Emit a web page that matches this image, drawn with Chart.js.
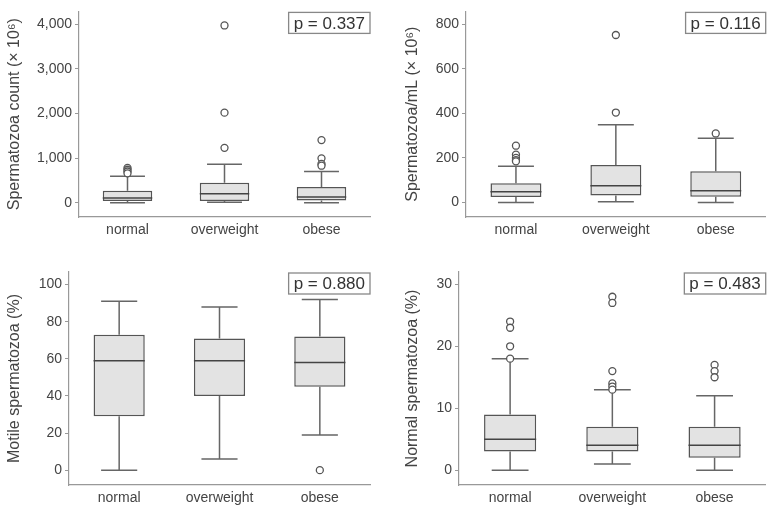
<!DOCTYPE html>
<html>
<head>
<meta charset="utf-8">
<script src="https://cdn.jsdelivr.net/npm/chart.js@4.4.1/dist/chart.umd.min.js"></script>
<style>
  body { margin: 0; background: #fff; }
  #wrap { position: relative; width: 771px; height: 507px; }
  .panel { position: absolute; }
</style>
</head>
<body>
<div id="wrap">
  <div class="panel" style="left:0;top:0;width:385px;height:250px"><canvas id="countChart"></canvas></div>
  <div class="panel" style="left:390px;top:0;width:381px;height:250px"><canvas id="concChart"></canvas></div>
  <div class="panel" style="left:0;top:250px;width:385px;height:257px"><canvas id="motileChart"></canvas></div>
  <div class="panel" style="left:390px;top:250px;width:381px;height:257px"><canvas id="normalChart"></canvas></div>
</div>
<script>
// 分组
const groups = ['normal', 'overweight', 'obese'];

// 精子总数 (x10^6)
const countMin = [0, 10, 0];
const countQ1 = [36, 36, 50];
const countMedian = [108, 202, 130];
const countQ3 = [267, 447, 353];
const countMax = [591, 865, 700];
const countOutliers = [[780, 740, 700, 660], [3975, 2020, 1230], [1405, 995, 870, 830]];
const countTicks = [0, 1000, 2000, 3000, 4000];

// 精子浓度 (x10^6/mL)
const concMin = [0, 3, 0];
const concQ1 = [25, 32, 26];
const concMedian = [48, 75, 53];
const concQ3 = [86, 169, 140];
const concMax = [163, 349, 288];
const concOutliers = [[255, 215, 200, 190, 185], [752, 404], [310]];
const concTicks = [0, 200, 400, 600, 800];

// 活动精子 (%)
const motileMin = [0, 6, 19];
const motileQ1 = [29, 40, 45];
const motileMedian = [59, 59, 58];
const motileQ3 = [73, 71, 72];
const motileMax = [91, 88, 92];
const motileOutliers = [[], [], [0]];
const motileTicks = [0, 20, 40, 60, 80, 100];

// 正常形态精子 (%)
const normMin = [0, 1, 0];
const normQ1 = [3, 3, 2];
const normMedian = [5, 4, 4];
const normQ3 = [9, 7, 7];
const normMax = [18, 13, 12];
const normOutliers = [[24, 23, 20, 18], [28, 27, 16, 14, 13.5, 13], [17, 16, 15]];
const normTicks = [0, 10, 20, 30];

const pValues = ['0.337', '0.116', '0.880', '0.483'];

const FONT = "'Liberation Sans', Arial, Helvetica, sans-serif";

// 画须线、中位数和 p 值框
function boxPlugin(stats, pText) {
    return {
        id: 'boxExtras',
        beforeDatasetsDraw(chart) {
            const ctx = chart.ctx;
            const xs = chart.scales.x, ys = chart.scales.y;
            const catW = xs.getPixelForValue(1) - xs.getPixelForValue(0);
            const capHalf = catW * 0.18;
            ctx.save();
            ctx.strokeStyle = '#666';
            ctx.lineWidth = 1.5;
            groups.forEach((g, i) => {
                const x = xs.getPixelForValue(i);
                const yMin = ys.getPixelForValue(stats.min[i]);
                const yMax = ys.getPixelForValue(stats.max[i]);
                const yQ1 = ys.getPixelForValue(stats.q1[i]);
                const yQ3 = ys.getPixelForValue(stats.q3[i]);
                ctx.beginPath();
                ctx.moveTo(x, yQ3); ctx.lineTo(x, yMax);
                ctx.moveTo(x, yQ1); ctx.lineTo(x, yMin);
                ctx.moveTo(x - capHalf, yMax); ctx.lineTo(x + capHalf, yMax);
                ctx.moveTo(x - capHalf, yMin); ctx.lineTo(x + capHalf, yMin);
                ctx.stroke();
            });
            ctx.restore();
        },
        afterDatasetsDraw(chart) {
            const ctx = chart.ctx;
            const xs = chart.scales.x, ys = chart.scales.y;
            const meta = chart.getDatasetMeta(0);
            ctx.save();
            ctx.strokeStyle = '#444';
            ctx.lineWidth = 1.5;
            groups.forEach((g, i) => {
                const bar = meta.data[i];
                const half = bar.width / 2;
                const x = xs.getPixelForValue(i);
                const y = ys.getPixelForValue(stats.median[i]);
                ctx.beginPath();
                ctx.moveTo(x - half, y); ctx.lineTo(x + half, y);
                ctx.stroke();
            });
            // p 值框
            const area = chart.chartArea;
            ctx.font = '17px ' + FONT;
            const label = 'p = ' + pText;
            const w = ctx.measureText(label).width + 10;
            const h = 21;
            const left = area.right - w, top = area.top + 1;
            ctx.fillStyle = '#fff';
            ctx.fillRect(left, top, w, h);
            ctx.strokeStyle = '#888';
            ctx.lineWidth = 1.3;
            ctx.strokeRect(left, top, w, h);
            ctx.fillStyle = '#333';
            ctx.textBaseline = 'middle';
            ctx.textAlign = 'center';
            ctx.fillText(label, left + w / 2, top + h / 2 + 1);
            ctx.restore();
        }
    };
}

function makeBoxChart(id, opts) {
    const stats = opts.stats;
    const outlierPoints = [];
    opts.outliers.forEach((arr, i) => {
        arr.forEach(v => outlierPoints.push({ x: groups[i], y: v }));
    });
    new Chart(document.getElementById(id), {
        type: 'bar',
        data: {
            labels: groups,
            datasets: [
                {
                    type: 'bar',
                    data: groups.map((g, i) => [stats.q1[i], stats.q3[i]]),
                    backgroundColor: '#e3e3e3',
                    borderColor: '#555',
                    borderWidth: 1.5,
                    borderSkipped: false,
                    barPercentage: 0.51,
                    categoryPercentage: 1,
                    order: 1
                },
                {
                    type: 'scatter',
                    data: outlierPoints,
                    pointRadius: 3.5,
                    pointBackgroundColor: '#fff',
                    pointBorderColor: '#555',
                    pointBorderWidth: 1.3,
                    order: 0
                }
            ]
        },
        options: {
            responsive: true,
            maintainAspectRatio: false,
            animation: false,
            layout: { padding: opts.padding },
            plugins: { legend: { display: false }, tooltip: { enabled: false } },
            scales: {
                x: {
                    type: 'category',
                    offset: true,
                    grid: { display: false, drawTicks: false },
                    border: { display: true, color: '#999', width: 1.2 },
                    ticks: { color: '#444', padding: 5, font: { family: FONT, size: 14 } },
                    afterFit: s => { s.height = opts.xHeight; }
                },
                y: {
                    type: 'linear',
                    min: opts.yMin,
                    max: opts.yMax,
                    afterBuildTicks: s => { s.ticks = opts.ticks.map(v => ({ value: v })); },
                    grid: { display: true, drawOnChartArea: false, drawTicks: true, tickLength: 4, color: '#999' },
                    border: { display: true, color: '#999', width: 1.2 },
                    ticks: {
                        color: '#444',
                        padding: 3,
                        font: { family: FONT, size: 14 },
                        callback: v => v.toLocaleString('en-US')
                    },
                    title: {
                        display: true,
                        text: opts.title,
                        color: '#444',
                        font: { family: FONT, size: 16 },
                        padding: { top: opts.titlePad, bottom: 0 }
                    },
                    afterFit: s => { s.width = opts.yWidth; }
                }
            }
        },
        plugins: [boxPlugin(stats, opts.p)]
    });
}

makeBoxChart('countChart', {
    stats: { min: countMin, q1: countQ1, median: countMedian, q3: countQ3, max: countMax },
    outliers: countOutliers, ticks: countTicks, yMin: -320, yMax: 4290,
    title: 'Spermatozoa count (× 10⁶)', p: pValues[0],
    padding: { top: 3, right: 15, left: 0, bottom: 0 }, yWidth: 79, xHeight: 33, titlePad: 5
});
makeBoxChart('concChart', {
    stats: { min: concMin, q1: concQ1, median: concMedian, q3: concQ3, max: concMax },
    outliers: concOutliers, ticks: concTicks, yMin: -65, yMax: 858,
    title: 'Spermatozoa/mL (× 10⁶)', p: pValues[1],
    padding: { top: 3, right: 1, left: 0, bottom: 0 }, yWidth: 76, xHeight: 33, titlePad: 13
});
makeBoxChart('motileChart', {
    stats: { min: motileMin, q1: motileQ1, median: motileMedian, q3: motileQ3, max: motileMax },
    outliers: motileOutliers, ticks: motileTicks, yMin: -8, yMax: 106.8,
    title: 'Motile spermatozoa (%)', p: pValues[2],
    padding: { top: 22, right: 15, left: 0, bottom: 0 }, yWidth: 69, xHeight: 22, titlePad: 5
});
makeBoxChart('normalChart', {
    stats: { min: normMin, q1: normQ1, median: normMedian, q3: normQ3, max: normMax },
    outliers: normOutliers, ticks: normTicks, yMin: -2.4, yMax: 32,
    title: 'Normal spermatozoa (%)', p: pValues[3],
    padding: { top: 22, right: 1, left: 0, bottom: 0 }, yWidth: 69, xHeight: 22, titlePad: 13
});
</script>
</body>
</html>
